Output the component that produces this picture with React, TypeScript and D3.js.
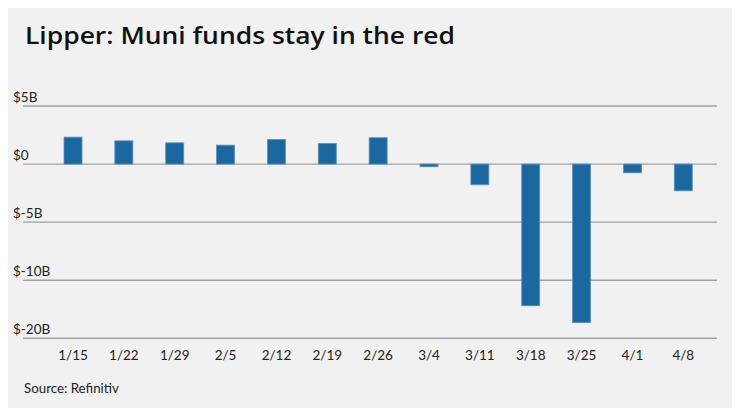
import React from "react";
import * as d3 from "d3";

const categories = ["1/15","1/22","1/29","2/5","2/12","2/19","2/26","3/4","3/11","3/18","3/25","4/1","4/8"];
const flows = [2.32, 2.0, 1.83, 1.63, 2.12, 1.78, 2.27, -0.23, -1.78, -12.2, -13.65, -0.75, -2.3];
const tickValues = [5, 0, -5, -10, -15];
const tickLabels = ["$5B", "$0", "$-5B", "$-10B", "$-20B"];

const W = 740, H = 416;
const FONT = "Lato, 'Open Sans', sans-serif";

export default function App() {
  const y = d3.scaleLinear().domain([-15, 5]).range([338.3, 106]);
  const x = d3.scalePoint<string>().domain(categories).range([73, 683.3]);
  const bw = 18;
  return (
    <div style={{ margin: -8 }}>
      <svg width={W} height={H} style={{ display: "block", background: "#f0f1f0" }}>
        <rect x={0} y={0} width={W} height={H} fill="#f0f1f0" />
        <text x={25} y={44} fontFamily="'Open Sans', sans-serif" fontWeight={600} fontSize={24}
          textLength={430} lengthAdjust="spacingAndGlyphs" fill="#111">
          Lipper: Muni funds stay in the red
        </text>
        {tickValues.map((t, i) => (
          <g key={t}>
            <line x1={23} x2={717} y1={y(t)} y2={y(t)} stroke="#a0a2a2" strokeWidth={1.4} />
            <text x={13} y={y(t) - 4.5} fontFamily={FONT} fontSize={13.5} fill="#222">
              {tickLabels[i]}
            </text>
          </g>
        ))}
        {flows.map((v, i) => {
          const top = y(Math.max(0, v));
          const h = Math.abs(y(v) - y(0));
          return (
            <rect key={categories[i]} x={(x(categories[i]) as number) - bw / 2} y={top} width={bw} height={h}
              fill="#1b67a0" stroke="#5b93c0" strokeWidth={0.8} />
          );
        })}
        {categories.map((c) => (
          <text key={c} x={x(c) as number} y={360} textAnchor="middle" fontFamily={FONT} fontSize={13.5} fill="#222">
            {c}
          </text>
        ))}
        <text x={24} y={393.3} fontFamily={FONT} fontSize={13.3} fill="#222">Source: Refinitiv</text>
      </svg>
    </div>
  );
}
